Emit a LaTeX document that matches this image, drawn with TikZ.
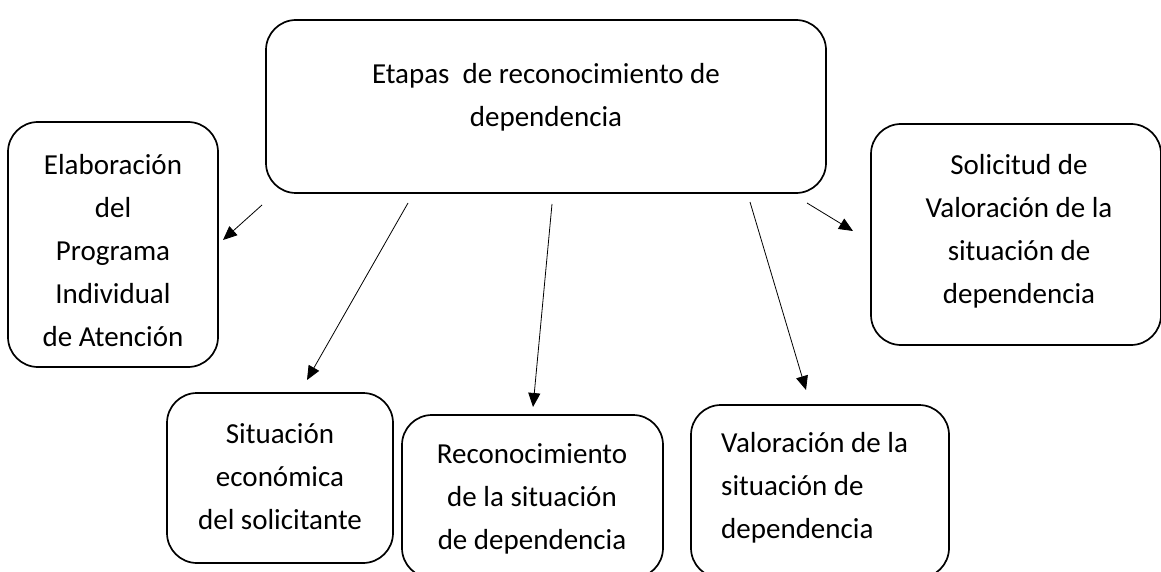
\documentclass[tikz,border=0pt]{standalone}
\usepackage{fontspec}
\setmainfont{Carlito}
\usetikzlibrary{arrows.meta}
\begin{document}
\begin{tikzpicture}[x=1pt,y=-1pt,
  box/.style={draw=black, line width=1.7pt, rounded corners=30pt, inner sep=0pt},
  txt/.style={font=\fontsize{29}{43}\selectfont, align=center, inner sep=0pt},
  txtl/.style={font=\fontsize{29}{43}\selectfont, align=left, inner sep=0pt},
  conn/.style={line width=0.8pt, -{Triangle[length=14pt,width=12pt]}}]
\useasboundingbox (0,0) rectangle (1161,572);
% boxes
\node[box, minimum width=560pt, minimum height=173pt] (main) at (546,106.5) {};
\node[box, minimum width=210pt, minimum height=245pt] (elab) at (113,244.5) {};
\node[box, minimum width=290pt, minimum height=221pt] (soli) at (1016,234.5) {};
\node[box, minimum width=226pt, minimum height=170pt] (econ) at (280,478) {};
\node[box, minimum width=261pt, minimum height=163pt] (reco) at (532.5,496.5) {};
\node[box, minimum width=258pt, minimum height=173pt] (valo) at (820,491.5) {};
% texts
\node[txt] (mainT) at (546,97) {Etapas\ \ de reconocimiento de\\dependencia};
\node[txt] (elabT) at (113,251) {Elaboración\\del\\Programa\\Individual\\de Atención};
\node[txt] (soliT) at (1019,231) {Solicitud de\\Valoración de la\\situación de\\dependencia};
\node[txt] (econT) at (280,477) {Situación\\económica\\del solicitante};
\node[txt] (recoT) at (532,499) {Reconocimiento\\de la situación\\de dependencia};
\node[txtl, anchor=west] (valoT) at (721,488) {Valoración de la\\situación de\\dependencia};
% connector ends
\coordinate (s1) at (262,205); \coordinate (e1) at (223,240);
\coordinate (s2) at (408,203); \coordinate (e2) at (307,380);
\coordinate (s3) at (552,204); \coordinate (e3) at (533,407);
\coordinate (s4) at (750,202); \coordinate (e4) at (806,390);
\coordinate (s5) at (807,203); \coordinate (e5) at (853,231);
\draw[conn] (s1) -- (e1);
\draw[conn] (s2) -- (e2);
\draw[conn] (s3) -- (e3);
\draw[conn] (s4) -- (e4);
\draw[conn] (s5) -- (e5);
\end{tikzpicture}
\end{document}
